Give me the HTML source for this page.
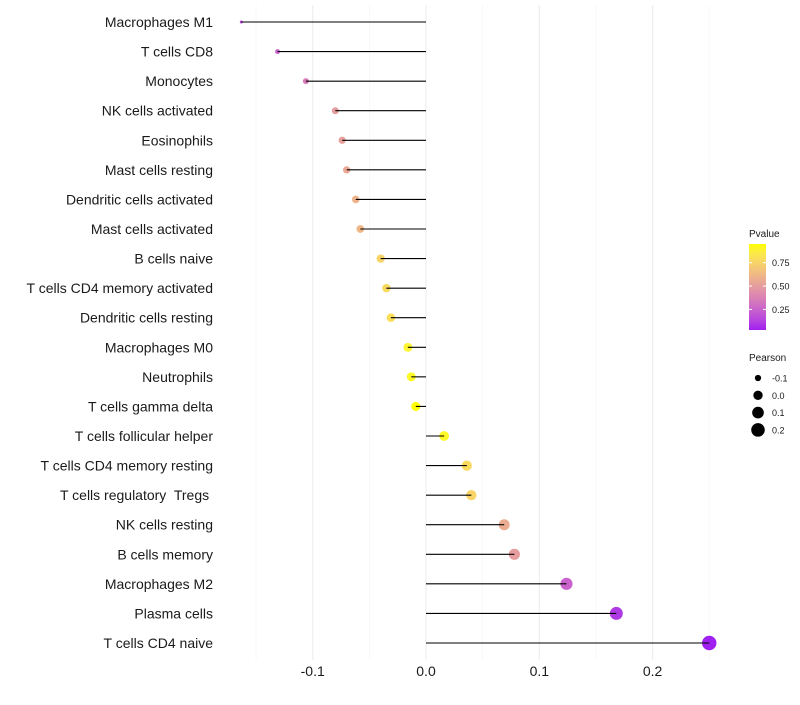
<!DOCTYPE html>
<html><head><meta charset="utf-8"><style>
body{margin:0;background:#fff;font-family:"Liberation Sans",Arial,sans-serif}
svg text{font-family:"Liberation Sans",Arial,sans-serif;white-space:pre}
</style></head><body>
<svg id="c" width="800" height="700"></svg>
<script>
const categories=["Macrophages M1","T cells CD8","Monocytes","NK cells activated","Eosinophils","Mast cells resting","Dendritic cells activated","Mast cells activated","B cells naive","T cells CD4 memory activated","Dendritic cells resting","Macrophages M0","Neutrophils","T cells gamma delta","T cells follicular helper","T cells CD4 memory resting","T cells regulatory  Tregs ","NK cells resting","B cells memory","Macrophages M2","Plasma cells","T cells CD4 naive"];
const pearson=[-0.163,-0.131,-0.106,-0.080,-0.074,-0.070,-0.062,-0.058,-0.040,-0.035,-0.031,-0.016,-0.013,-0.009,0.016,0.036,0.040,0.069,0.078,0.124,0.168,0.250];
const pvalue=[0.12,0.25,0.35,0.5,0.52,0.55,0.6,0.62,0.75,0.78,0.8,0.9,0.92,0.95,0.92,0.78,0.75,0.57,0.5,0.25,0.1,0.03];
const xTicks=[-0.1,0,0.1,0.2];
const xTickLabels=["-0.1","0.0","0.1","0.2"];
const pTicks=[0.25,0.5,0.75];
const pTickLabels=["0.25","0.50","0.75"];
const sizeTicks=[-0.1,0,0.1,0.2];
const sizeTickLabels=["-0.1","0.0","0.1","0.2"];

const svg=document.getElementById('c');const NS="http://www.w3.org/2000/svg";
function mk(t,a,p){const e=document.createElementNS(NS,t);for(const k in a)e.setAttribute(k,a[k]);(p||svg).appendChild(e);return e;}
const X=v=>426+v*1133;
const Y=i=>22+i*(643-22)/(categories.length-1);
const R=v=>Math.sqrt(Math.max(0.5,21.9+120.5*v));
function toLab(h){let c=[1,3,5].map(i=>parseInt(h.substr(i,2),16)/255).map(u=>u<=0.04045?u/12.92:Math.pow((u+0.055)/1.055,2.4));
let x=(c[0]*0.4124+c[1]*0.3576+c[2]*0.1805)/0.95047,y=c[0]*0.2126+c[1]*0.7152+c[2]*0.0722,z=(c[0]*0.0193+c[1]*0.1192+c[2]*0.9505)/1.08883;
const f=t=>t>0.008856?Math.cbrt(t):7.787*t+16/116;return [116*f(y)-16,500*(f(x)-f(y)),200*(f(y)-f(z))];}
function fromLab(L){let fy=(L[0]+16)/116,fx=fy+L[1]/500,fz=fy-L[2]/200;const g=t=>t*t*t>0.008856?t*t*t:(t-16/116)/7.787;
let x=g(fx)*0.95047,y=g(fy),z=g(fz)*1.08883;
let r=x*3.2406-y*1.5372-z*0.4986,gg=-x*0.9689+y*1.8758+z*0.0415,b=x*0.0557-y*0.2040+z*1.0570;
return "rgb("+[r,gg,b].map(u=>{u=u<=0.0031308?12.92*u:1.055*Math.pow(u,1/2.4)-0.055;return Math.round(Math.min(1,Math.max(0,u))*255);}).join(",")+")";}
const L0=toLab("#A020F0"),L1=toLab("#FFFF00");
const pmin=Math.min(...pvalue),pmax=Math.max(...pvalue);
const col=p=>{const t=(p-pmin)/(pmax-pmin);return fromLab(L0.map((v,i)=>v+(L1[i]-v)*t));};

[-0.15,-0.05,0.05,0.15,0.25].forEach(v=>{const l=mk('line',{x1:X(v),x2:X(v),y1:5,y2:660,stroke:'#f4f4f4','stroke-width':0.6});});
xTicks.forEach((v,i)=>{const l=mk('line',{x1:X(v),x2:X(v),y1:5,y2:660,stroke:'#eeeeee','stroke-width':1.1});
const t=mk('text',{x:X(v),y:676,'text-anchor':'middle','font-size':14,fill:'#1a1a1a'});t.textContent=xTickLabels[i];});
categories.forEach((c,i)=>{const t=mk('text',{x:213,y:Y(i)+5,'text-anchor':'end','font-size':14,fill:'#1a1a1a'});t.textContent=c;});
categories.forEach((c,i)=>{const p=mk('circle',{cx:X(pearson[i]),cy:Y(i),r:R(pearson[i]),fill:col(pvalue[i])});});
categories.forEach((c,i)=>{const s=mk('line',{x1:X(0),x2:X(pearson[i]),y1:Y(i),y2:Y(i),stroke:'#000','stroke-width':1.1});});
let g=mk('text',{x:749,y:237,'font-size':10,fill:'#1a1a1a'});g.textContent="Pvalue";
const defs=mk('defs',{});const lg=mk('linearGradient',{id:'gr',x1:0,y1:1,x2:0,y2:0},defs);
for(let k=0;k<=10;k++){mk('stop',{offset:k/10,'stop-color':col(pmin+(pmax-pmin)*k/10)},lg);}
const cbTop=244,cbBot=330;const PY=p=>cbBot-(p-pmin)/(pmax-pmin)*(cbBot-cbTop);
g=mk('rect',{x:749,y:cbTop,width:17,height:cbBot-cbTop,fill:'url(#gr)'});
pTicks.forEach((v,i)=>{mk('line',{x1:749,x2:752,y1:PY(v),y2:PY(v),stroke:'#fff'});mk('line',{x1:763,x2:766,y1:PY(v),y2:PY(v),stroke:'#fff'});
const t=mk('text',{x:772,y:PY(v)+3.5,'font-size':9,fill:'#1a1a1a'});t.textContent=pTickLabels[i];});
g=mk('text',{x:749,y:361,'font-size':10,fill:'#1a1a1a'});g.textContent="Pearson";
sizeTicks.forEach((v,i)=>{const y=378+i*17.3;const c=mk('circle',{cx:758,cy:y,r:R(v),fill:'#000'});
const t=mk('text',{x:772,y:y+3.5,'font-size':9,fill:'#1a1a1a'});t.textContent=sizeTickLabels[i];});
</script></body></html>
